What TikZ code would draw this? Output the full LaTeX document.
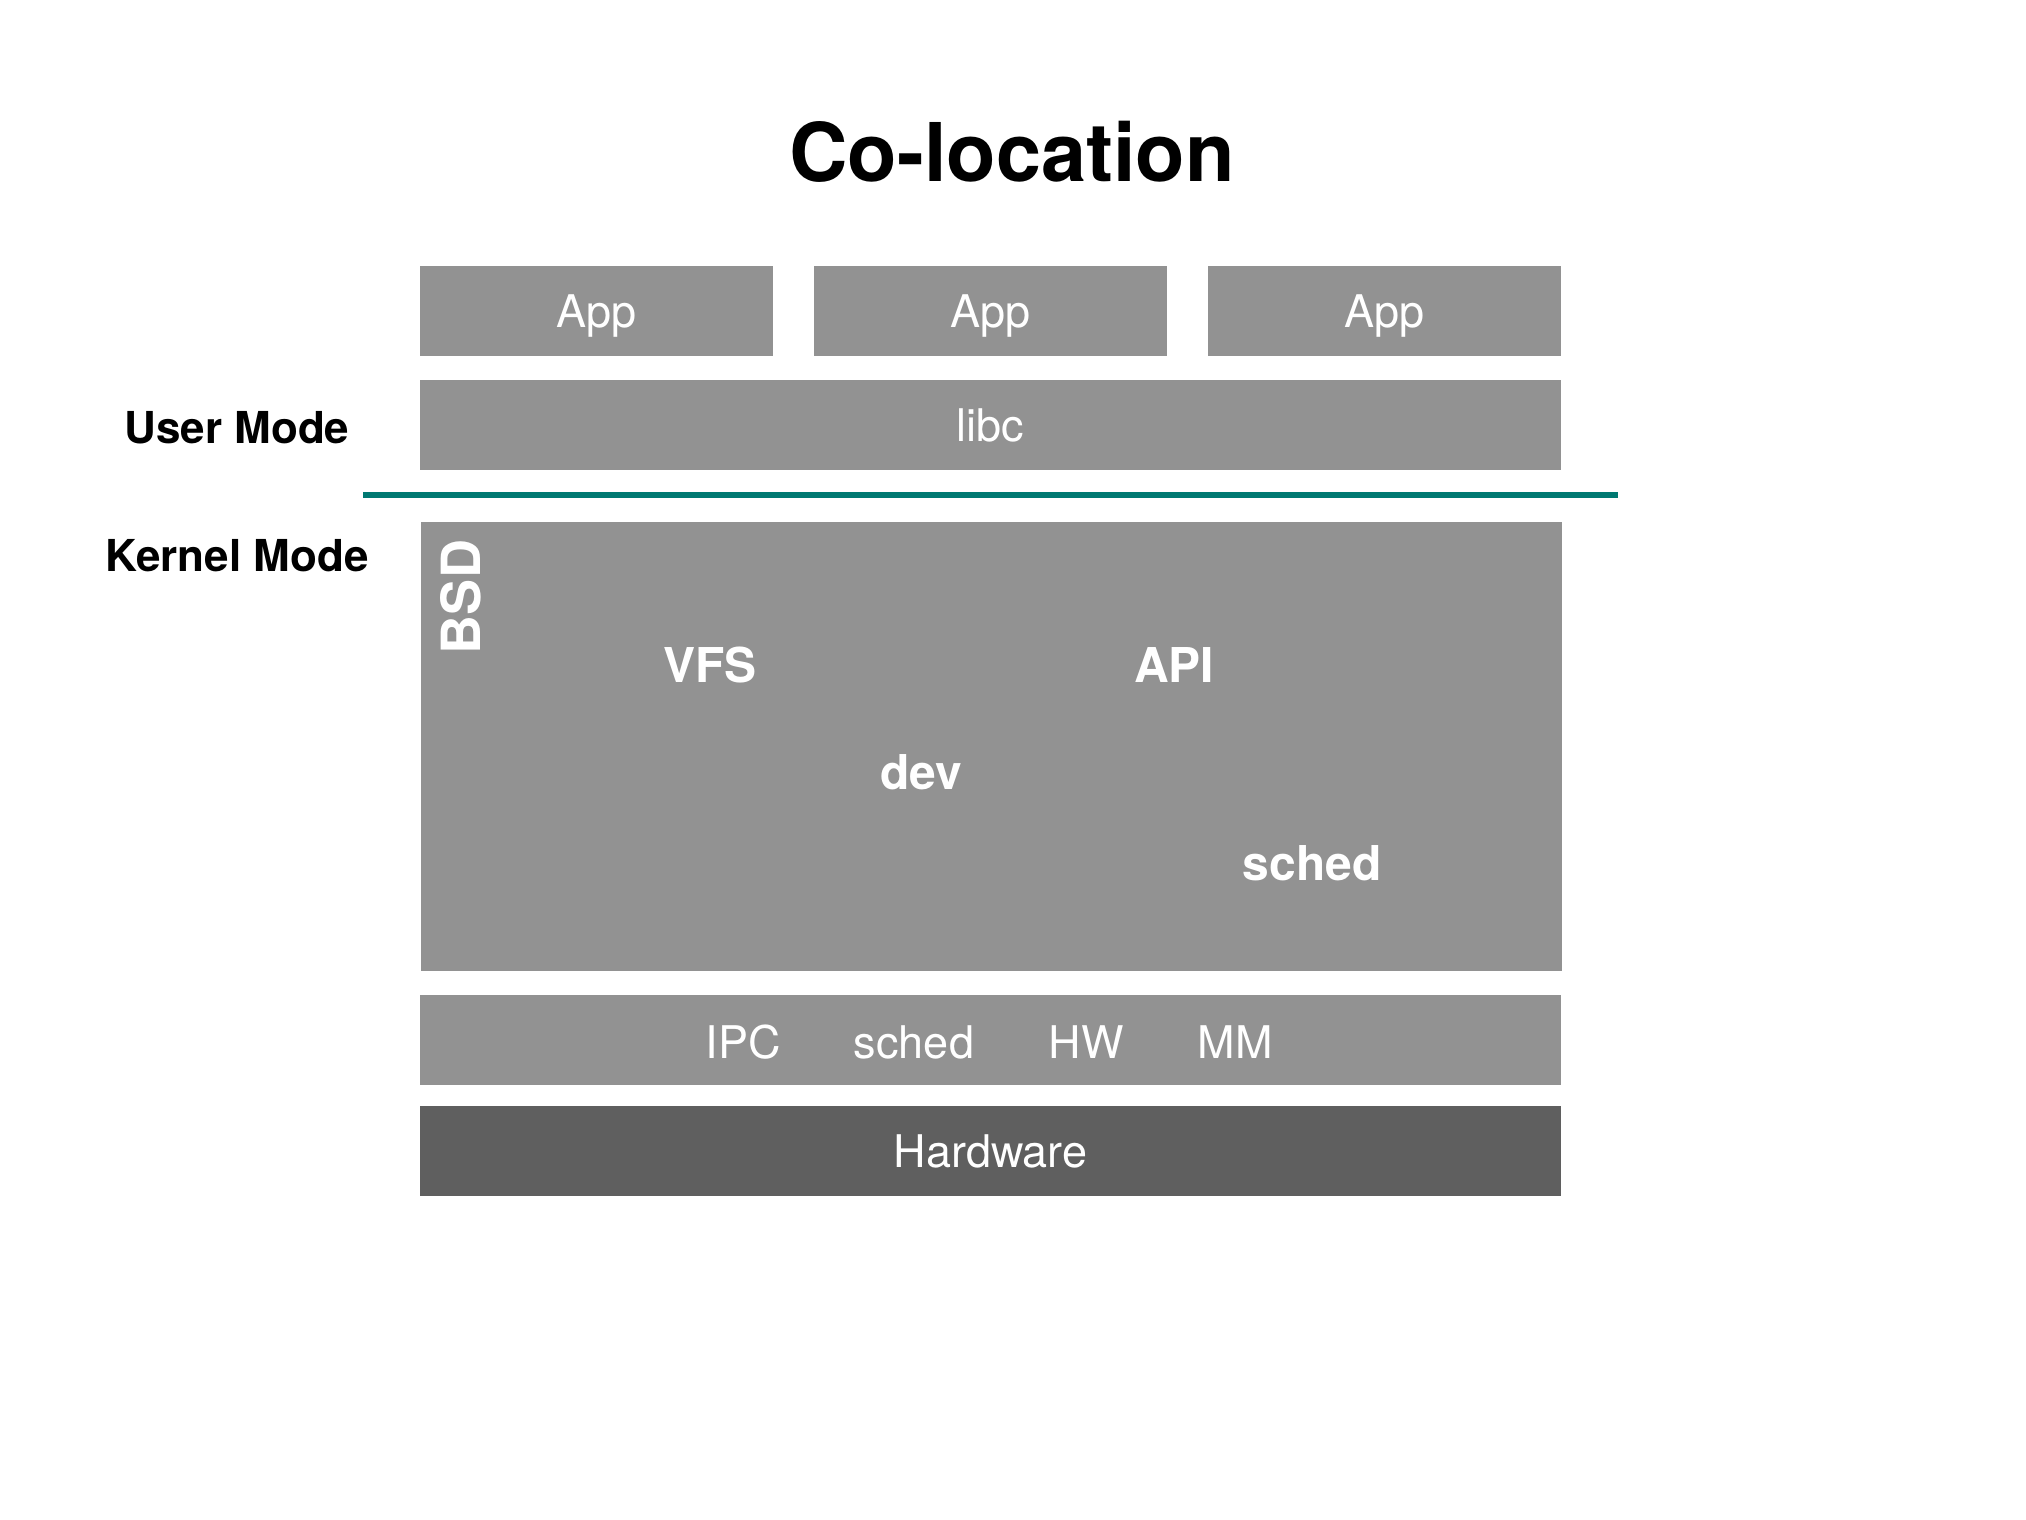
\documentclass[tikz,border=0pt]{standalone}
\usepackage{fontspec}
\setmainfont{TeX Gyre Heros}
\usetikzlibrary{positioning}

\definecolor{boxgray}{RGB}{146,146,146}
\definecolor{hwgray}{RGB}{95,95,95}
\definecolor{divteal}{RGB}{0,121,114}

\tikzset{
  layer/.style={fill=boxgray, text=white, inner sep=0pt, minimum height=45pt,
    font=\fontsize{22.5}{26}\selectfont, text height=16.2pt, text depth=0pt},
  heading/.style={font=\bfseries\fontsize{40.5}{46}\selectfont, text height=29.2pt, text depth=0pt},
  modelabel/.style={font=\bfseries\fontsize{22}{26}\selectfont, text height=15.8pt, text depth=0pt},
  bsdlabel/.style={text=white, font=\bfseries\fontsize{24}{28}\selectfont, text height=17.3pt, text depth=0pt},
  kernlabel/.style={text=white, font=\fontsize{22.5}{26}\selectfont, text height=16.2pt, text depth=0pt},
}

\begin{document}
\begin{tikzpicture}[x=0.5pt,y=-0.5pt]
  \useasboundingbox (0,0) rectangle (2026,1520);

  \node[heading] (title) at (1012,152) {Co-location};

  % user space
  \node[layer,minimum width=176.5pt] (app_1) at (596.5,311) {App};
  \node[layer,minimum width=176.5pt] (app_2) [right=20pt of app_1] {App};
  \node[layer,minimum width=176.5pt] (app_3) [right=20pt of app_2] {App};
  \node[layer,minimum width=570.5pt] (libc) at (990.5,425) {libc};

  \node[modelabel] (user)   at (237,428) {User Mode};
  \node[modelabel] (kernel) at (237,556) {Kernel Mode};

  % user / kernel boundary
  \coordinate (div_l) at (363,495);
  \coordinate (div_r) at (1618,495);
  \draw[divteal,line width=3pt] (div_l) -- (div_r);

  % BSD server
  \node[layer,minimum width=570.5pt,minimum height=224.5pt] (bsd) at (991.5,746) {};
  \node[bsdlabel,rotate=90,font=\bfseries\fontsize{27}{30}\selectfont,text height=19.4pt] (bsd_t) at (461,597) {BSD};
  \node[bsdlabel] (vfs)   at (710,665)  {VFS};
  \node[bsdlabel] (api)   at (1174,665) {API};
  \node[bsdlabel] (dev)   at (921,772)  {dev};
  \node[bsdlabel] (bsd_s) at (1312,863) {sched};

  % microkernel
  \node[layer,minimum width=570.5pt] (mach) at (990.5,1040) {};
  \node[kernlabel] (ipc)    at (743,1042)  {IPC};
  \node[kernlabel] (mach_s) at (914,1042)  {sched};
  \node[kernlabel] (hw)     at (1086,1042) {HW};
  \node[kernlabel] (mm)     at (1235,1042) {MM};

  \node[layer,fill=hwgray,minimum width=570.5pt] (hardware) at (990.5,1151) {Hardware};
\end{tikzpicture}
\end{document}
